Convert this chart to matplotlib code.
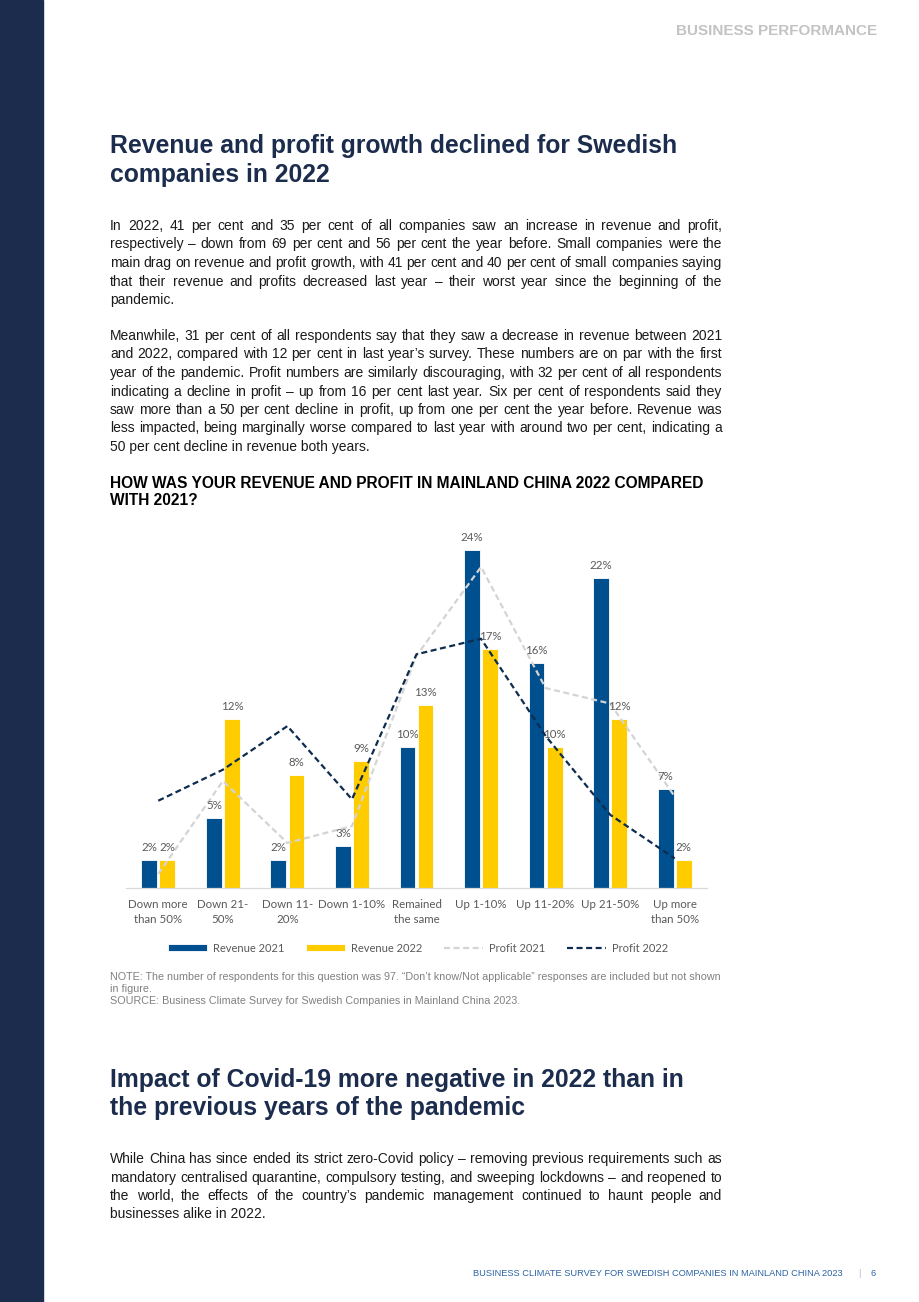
import matplotlib
matplotlib.use('Agg')
import matplotlib.pyplot as plt
from matplotlib.patches import Rectangle
import numpy as np

# page size in pixels
W, H = 920, 1302

# chart data (per cent of respondents)
categories = ['Down more\nthan 50%', 'Down 21-\n50%', 'Down 11-\n20%', 'Down 1-10%',
              'Remained\nthe same', 'Up 1-10%', 'Up 11-20%', 'Up 21-50%', 'Up more\nthan 50%']
revenue_2021 = [2, 5, 2, 3, 10, 24, 16, 22, 7]
revenue_2022 = [2, 12, 8, 9, 13, 17, 10, 12, 2]
profit_2021 = [1.0, 7.6, 3.2, 4.4, 16.5, 22.8, 14.2, 13.1, 6.5]
profit_2022 = [6.2, 8.4, 11.5, 6.3, 16.6, 17.7, 10.8, 5.2, 2.1]

para1 = [
    "In 2022, 41 per cent and 35 per cent of all companies saw an increase in revenue and profit,",
    "respectively \u2013 down from 69 per cent and 56 per cent the year before. Small companies were the",
    "main drag on revenue and profit growth, with 41 per cent and 40 per cent of small companies saying",
    "that their revenue and profits decreased last year \u2013 their worst year since the beginning of the",
    "pandemic.",
]
para2 = [
    "Meanwhile, 31 per cent of all respondents say that they saw a decrease in revenue between 2021",
    "and 2022, compared with 12 per cent in last year\u2019s survey. These numbers are on par with the first",
    "year of the pandemic. Profit numbers are similarly discouraging, with 32 per cent of all respondents",
    "indicating a decline in profit \u2013 up from 16 per cent last year. Six per cent of respondents said they",
    "saw more than a 50 per cent decline in profit, up from one per cent the year before. Revenue was",
    "less impacted, being marginally worse compared to last year with around two per cent, indicating a",
    "50 per cent decline in revenue both years.",
]
para3 = [
    "While China has since ended its strict zero-Covid policy \u2013 removing previous requirements such as",
    "mandatory centralised quarantine, compulsory testing, and sweeping lockdowns \u2013 and reopened to",
    "the world, the effects of the country\u2019s pandemic management continued to haunt people and",
    "businesses alike in 2022.",
]

NAVY = '#1b2c4d'
BLUE = '#00508f'
YELLOW = '#ffcc00'
LGRAY = '#d4d4d4'
DNAVY = '#0d2c4f'
LABEL = '#595959'

plt.rcParams['font.family'] = ['Liberation Sans', 'DejaVu Sans']

fig = plt.figure(figsize=(W / 100, H / 100), dpi=100)
renderer = fig.canvas.get_renderer()


def fx(x):
    return x / W


def fy(y):
    return 1 - y / H


def text_width(s, size):
    t = fig.text(0, 0, s, fontsize=size)
    w = t.get_window_extent(renderer).width
    t.remove()
    return w


def fit_size(lines, start=10.0, span=612, min_gap=2.8):
    # largest font size where every justified line still has a visible word gap
    size = start
    while size > 7:
        ok = True
        for line in lines:
            words = line.split(' ')
            total = sum(text_width(w, size) for w in words) + min_gap * (len(words) - 1)
            if total > span:
                ok = False
                break
        if ok:
            return size
        size -= 0.1
    return size


def justify(lines, y0, size, step=18.5, x0=110, x1=722):
    # y0 is the centre of the first line; baseline sits half a cap height lower
    for i, line in enumerate(lines):
        yb = round(y0 + i * step + 0.36 * size * 100 / 72)
        if i == len(lines) - 1:
            fig.text(fx(x0), fy(yb), line, fontsize=size, color='#1a1a1a', va='baseline')
            continue
        words = line.split(' ')
        arts = [fig.text(0, fy(yb), w, fontsize=size, color='#1a1a1a', va='baseline') for w in words]
        widths = [a.get_window_extent(renderer).width for a in arts]
        gap = (x1 - x0 - sum(widths)) / (len(words) - 1)
        x = x0
        for a, w in zip(arts, widths):
            a.set_x(fx(x))
            x += w + gap


# left navy band
fig.add_artist(Rectangle((0, 0), fx(43), 1, transform=fig.transFigure, color=NAVY, zorder=0))

fig.text(fx(877), fy(31), 'BUSINESS PERFORMANCE', fontsize=11, fontweight='bold',
         color='#c3c3c3', ha='right', va='center')

fig.text(fx(110), fy(146), 'Revenue and profit growth declined for Swedish', fontsize=17.8,
         fontweight='bold', color=NAVY, va='center')
fig.text(fx(110), fy(175), 'companies in 2022', fontsize=17.8,
         fontweight='bold', color=NAVY, va='center')

body = fit_size(para1[:-1] + para2[:-1] + para3[:-1])
justify(para1, 225, body)
justify(para2, 335, body)

fig.text(fx(110), fy(483), 'HOW WAS YOUR REVENUE AND PROFIT IN MAINLAND CHINA 2022 COMPARED',
         fontsize=11.2, fontweight='bold', color='black', va='center')
fig.text(fx(110), fy(501), 'WITH 2021?', fontsize=11.2, fontweight='bold', color='black', va='center')

# chart
ymax = 26
ax = fig.add_axes([fx(126), fy(888), fx(707) - fx(126), 26 * 14.08 / H])
x = np.arange(len(categories))
bw = 0.245
b1 = ax.bar(x - 0.14, revenue_2021, bw, color=BLUE, edgecolor='white', linewidth=0.6,
            label='Revenue 2021', zorder=2)
b2 = ax.bar(x + 0.14, revenue_2022, bw, color=YELLOW, edgecolor='white', linewidth=0.6,
            label='Revenue 2022', zorder=2)
l1, = ax.plot(x, profit_2021, color=LGRAY, lw=1.6, dashes=(2.7, 1.6), label='Profit 2021', zorder=3)
l2, = ax.plot(x, profit_2022, color=DNAVY, lw=1.6, dashes=(2.7, 1.6), label='Profit 2022', zorder=4)

for bars, vals in ((b1, revenue_2021), (b2, revenue_2022)):
    for r, v in zip(bars, vals):
        ax.annotate(f'{v}%', (r.get_x() + r.get_width() / 2, v), xytext=(0, 5),
                    textcoords='offset points', ha='center', va='bottom',
                    fontsize=8.3, color=LABEL, family='Lato', zorder=5)

ax.set_xlim(-0.5, len(categories) - 0.5)
ax.set_ylim(0, ymax)
ax.set_yticks([])
ax.set_xticks(x)
ax.set_xticklabels(categories, fontsize=8.3, color=LABEL, family='Lato', linespacing=1.4)
ax.tick_params(axis='x', length=0, pad=8)
for s in ['top', 'right', 'left']:
    ax.spines[s].set_visible(False)
ax.spines['bottom'].set_color('#d9d9d9')
ax.spines['bottom'].set_linewidth(0.9)
ax.patch.set_alpha(0)

fig.legend(handles=[b1, b2, l1, l2], loc='center', bbox_to_anchor=(fx(418), fy(948)), ncol=4,
           frameon=False, prop={'family': 'Lato', 'size': 8}, labelcolor=LABEL, handlelength=3.5,
           handleheight=0.55, columnspacing=2.0, handletextpad=0.5)

# notes
note_kw = dict(fontsize=7.75, color='#808080', va='center')
fig.text(fx(110), fy(977), 'NOTE: The number of respondents for this question was 97. \u201cDon\u2019t know/Not applicable\u201d '
         'responses are included but not shown', **note_kw)
fig.text(fx(110), fy(989), 'in figure.', **note_kw)
fig.text(fx(110), fy(1001), 'SOURCE: Business Climate Survey for Swedish Companies in Mainland China 2023.', **note_kw)

fig.text(fx(110), fy(1080), 'Impact of Covid-19 more negative in 2022 than in', fontsize=17.8,
         fontweight='bold', color=NAVY, va='center')
fig.text(fx(110), fy(1108), 'the previous years of the pandemic', fontsize=17.8,
         fontweight='bold', color=NAVY, va='center')

justify(para3, 1158, body)

# footer
foot = 6.7
fig.text(fx(843), fy(1273), 'BUSINESS CLIMATE SURVEY FOR SWEDISH COMPANIES IN MAINLAND CHINA 2023',
         fontsize=foot, color='#2b63a3', ha='right', va='center')
fig.text(fx(859), fy(1273), '|', fontsize=foot, color='#a9bfd8', ha='center', va='center')
fig.text(fx(873), fy(1273), '6', fontsize=foot, color='#2b63a3', ha='center', va='center')

fig.savefig('out.png', dpi=100)
